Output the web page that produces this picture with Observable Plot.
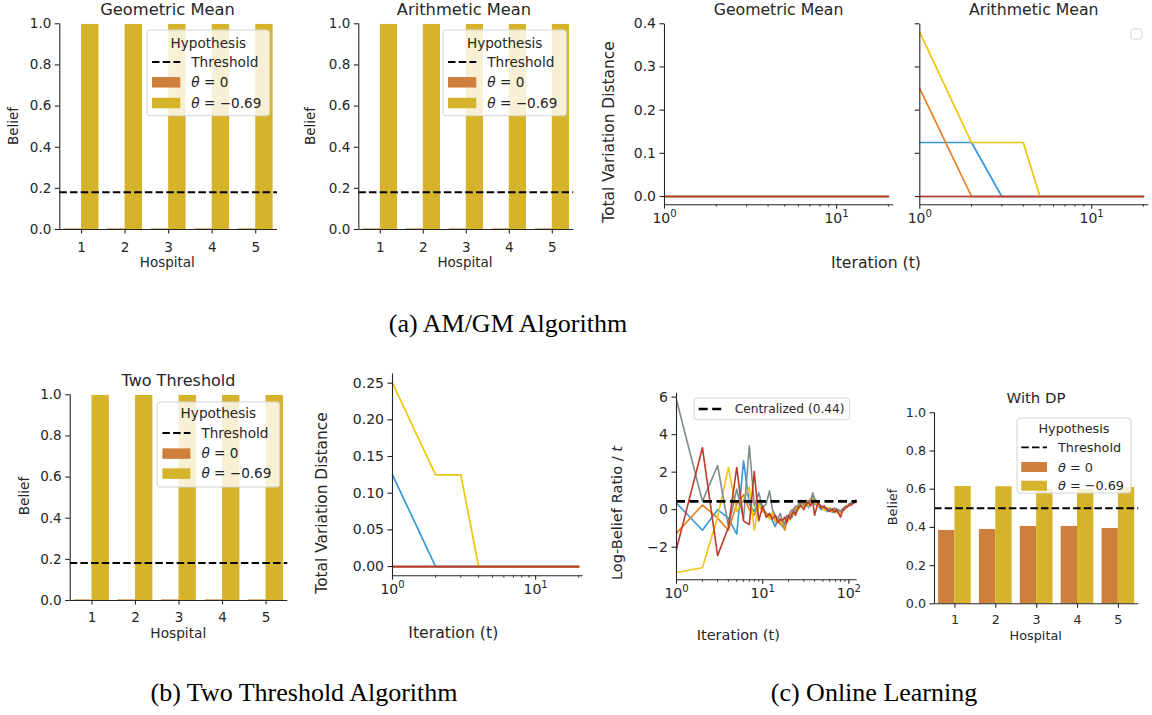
<!DOCTYPE html>
<html><head><meta charset="utf-8">
<script src="https://cdn.jsdelivr.net/npm/d3@7"></script>
<script src="https://cdn.jsdelivr.net/npm/@observablehq/plot@0.6"></script>
<style>
body{margin:0;background:#fff;}
#fig{position:relative;width:1152px;height:715px;overflow:hidden;font-family:"DejaVu Sans";color:#262626;background:#fff;}
.lbl{position:absolute;white-space:nowrap;transform:translate(-50%,-50%);line-height:1;}
.cap{font-family:"Liberation Serif";color:#000;}
</style></head><body><div id="fig"></div>
<script>
// ---------------- DATA ----------------
const hospitals = [1, 2, 3, 4, 5];
const hypothesisLabels = ["θ = 0", "θ = −0.69"];
const barColors = ["#ce7f3b", "#d5b32b"];
const hospitalColors = ["#3498db", "#e67e22", "#f1c40f", "#7f8c8d", "#c0392b"];

const geoBelief0 = [0.003, 0.003, 0.003, 0.003, 0.003];
const geoBelief1 = [0.997, 0.997, 0.997, 0.997, 0.997];
const arithBelief0 = [0.003, 0.003, 0.003, 0.003, 0.003];
const arithBelief1 = [0.997, 0.997, 0.997, 0.997, 0.997];
const twoBelief0 = [0.003, 0.003, 0.003, 0.003, 0.003];
const twoBelief1 = [0.997, 0.997, 0.997, 0.997, 0.997];
const dpBelief0 = [0.384, 0.389, 0.405, 0.405, 0.394];
const dpBelief1 = [0.614, 0.613, 0.599, 0.599, 0.609];
const thresholdAMGM = 0.181;
const thresholdTwo = 0.182;
const thresholdDP = 0.5;

const iterations = [1,2,3,4,5,6,7,8,9,10,11,12,13,14,15,16,17,18,19,20];
const tvGeoAll = [0,0,0,0,0,0,0,0,0,0,0,0,0,0,0,0,0,0,0,0];
const tvArith1 = [0.125,0.125,0,0,0,0,0,0,0,0,0,0,0,0,0,0,0,0,0,0];
const tvArith2 = [0.25,0,0,0,0,0,0,0,0,0,0,0,0,0,0,0,0,0,0,0];
const tvArith3 = [0.38,0.125,0.125,0.125,0,0,0,0,0,0,0,0,0,0,0,0,0,0,0,0];
const tvArith4 = [0,0,0,0,0,0,0,0,0,0,0,0,0,0,0,0,0,0,0,0];
const tvArith5 = [0,0,0,0,0,0,0,0,0,0,0,0,0,0,0,0,0,0,0,0];
const tvTwo1 = [0.125,0,0,0,0,0,0,0,0,0,0,0,0,0,0,0,0,0,0,0];
const tvTwo2 = [0,0,0,0,0,0,0,0,0,0,0,0,0,0,0,0,0,0,0,0];
const tvTwo3 = [0.25,0.125,0.125,0,0,0,0,0,0,0,0,0,0,0,0,0,0,0,0,0];
const tvTwo4 = [0,0,0,0,0,0,0,0,0,0,0,0,0,0,0,0,0,0,0,0];
const tvTwo5 = [0,0,0,0,0,0,0,0,0,0,0,0,0,0,0,0,0,0,0,0];

const tOnline = [1,2,3,4,5,6,7,8,9,10,11,12,13,14,15,16,17,18,19,20,21,22,23,24,
  26,28,30,32,34,36,38,40,
  44,48,52,56,60,64,68,72,76,80,84,88,92,96,100,104,108,112,116,120];
const llrBlue = [0.35,-1.1,0.0,-0.45,-1.3,2.6,0.3,-0.1,0.5,0.1,-0.2,-0.3,-0.6,-0.9,-0.5,-0.7,-0.9,-1.0,-0.6,-0.5,-0.3,-0.4,0.0,-0.2,
  0.3,0.5,0.2,0.4,0.1,0.5,0.7,0.3,
  0.2,0.0,0.1,-0.1,0.1,-0.15,0.0,-0.1,-0.2,-0.1,-0.05,0.1,0.15,0.2,0.3,0.25,0.35,0.4,0.35,0.45];
const llrOrange = [-1.25,0.25,-0.45,-1.1,0.3,0.8,0.0,-0.3,0.3,-0.1,-0.2,-0.4,-0.2,-0.6,-0.5,-0.8,-0.7,-1.1,-0.7,-0.4,-0.2,-0.3,0.1,0.0,
  0.2,0.4,0.3,0.5,0.3,0.6,0.4,0.5,
  0.3,0.1,0.0,0.1,-0.05,0.0,-0.1,0.05,-0.15,-0.2,0.0,0.05,0.2,0.15,0.25,0.3,0.3,0.35,0.4,0.4];
const llrYellow = [-3.35,-3.1,-0.4,2.25,-0.1,0.5,1.2,-1.1,0.3,0.0,-0.3,-0.5,-0.1,-0.7,-0.4,-0.6,-0.8,-0.7,-0.4,-0.6,-0.2,-0.1,-0.3,0.1,
  0.0,0.3,0.1,0.4,0.2,0.5,0.6,0.4,
  0.2,0.15,-0.05,0.0,0.1,-0.1,0.05,-0.15,-0.1,-0.2,-0.1,0.0,0.1,0.25,0.2,0.3,0.3,0.35,0.45,0.4];
const llrGray = [5.85,0.45,2.35,-0.9,1.1,-0.5,3.4,0.2,0.9,0.1,0.3,1.0,0.0,-0.3,-0.5,-0.2,-0.6,-0.8,-0.3,-0.4,-0.1,0.0,-0.2,0.2,
  0.1,0.3,0.4,0.2,0.5,0.4,0.9,0.6,
  0.3,0.2,0.1,0.0,0.05,-0.05,0.1,-0.1,0.0,-0.1,0.05,0.1,0.15,0.2,0.25,0.35,0.3,0.4,0.45,0.5];
const llrRed = [-2.1,3.3,-2.45,-0.95,2.25,-0.6,-0.8,2.05,-0.6,0.2,-0.4,-0.2,-0.5,-0.3,-0.7,-0.5,-0.6,-0.4,-0.7,-0.3,-0.5,-0.2,-0.1,-0.3,
  0.1,0.2,0.0,0.3,0.4,0.2,0.5,-0.3,
  0.4,0.1,0.2,0.0,-0.1,0.05,-0.15,0.0,-0.2,-0.4,-0.1,0.0,0.1,0.15,0.2,0.3,0.25,0.35,0.4,0.5];
const centralized = 0.44;

const beliefTicks = [0, 0.2, 0.4, 0.6, 0.8, 1.0];
const tvTicksTop = [0, 0.1, 0.2, 0.3, 0.4];
const tvTicksBottom = [0, 0.05, 0.10, 0.15, 0.20, 0.25];
const llrTicks = [-2, 0, 2, 4, 6];
const logMajorTV = [1, 10];
const logMinorTV = [2,3,4,5,6,7,8,9,20];
const logMajorOL = [1, 10, 100];
const logMinorOL = [2,3,4,5,6,7,8,9,20,30,40,50,60,70,80,90];

// ---------------- HELPERS ----------------
const fig = document.getElementById("fig");
const W = 1152, H = 715;
const ink = "#262626";
const hasAxisMarks = typeof Plot.axisX === "function";
const supDigits = {"0":"⁰","1":"¹","2":"²"};
const logFmt = d => "10" + supDigits[String(Math.round(Math.log10(d)))];

// turn "10⁰" tick labels into 10 with a raised, smaller exponent (mathtext look)
function raiseExponents(svg, fs) {
  const inv = {"⁰":"0","¹":"1","²":"2"};
  d3.select(svg).selectAll("text").each(function() {
    if (this.querySelector("tspan")) return;
    const s = this.textContent;
    const m = s.match(/^10([⁰¹²])$/);
    if (!m) return;
    this.textContent = "";
    const t = d3.select(this);
    t.append("tspan").text("10");
    t.append("tspan").attr("dy", -0.42 * fs).attr("font-size", (0.72 * fs) + "px").text(inv[m[1]]);
  });
}

function panel(c) {
  const marks = [...c.marks];
  const xOpt = {type: c.xType || "linear", domain: c.xDomain};
  const yOpt = {domain: c.yDomain};
  marks.push(Plot.ruleX([c.xDomain[0]], {stroke: ink, strokeWidth: 1.1}));
  marks.push(Plot.ruleY([c.yDomain[0]], {stroke: ink, strokeWidth: 1.1}));
  if (hasAxisMarks) {
    marks.push(Plot.axisX({ticks: c.xTicks, tickFormat: c.xFormat, tickSize: 4.5, tickPadding: c.xPad, label: null, strokeWidth: 1.1, stroke: ink}));
    if (c.xMinor) marks.push(Plot.axisX({ticks: c.xMinor, tickFormat: () => "", tickSize: 2.5, tickPadding: 0, label: null, strokeWidth: 0.9, stroke: ink}));
    marks.push(Plot.axisY({ticks: c.yTicks, tickFormat: c.yFormat, tickSize: 4.5, tickPadding: c.yPad, label: null, strokeWidth: 1.1, stroke: ink}));
  } else {
    Object.assign(xOpt, {ticks: c.xTicks, tickFormat: c.xFormat, tickSize: 4.5, tickPadding: c.xPad, label: null});
    Object.assign(yOpt, {ticks: c.yTicks, tickFormat: c.yFormat, tickSize: 4.5, tickPadding: c.yPad, label: null});
  }
  const svg = Plot.plot({
    width: W, height: H,
    marginLeft: c.left, marginRight: W - c.right, marginTop: c.top, marginBottom: H - c.bottom,
    x: xOpt, y: yOpt, marks,
    style: {fontFamily: "DejaVu Sans", fontSize: c.fs + "px", color: ink, background: "transparent", overflow: "visible"}
  });
  svg.style.position = "absolute"; svg.style.left = "0px"; svg.style.top = "0px";
  svg.style.maxWidth = "none";
  if (c.xType === "log") raiseExponents(svg, c.fs);
  fig.appendChild(svg);
}

function txt(html, cx, cy, size, opt = {}) {
  const d = document.createElement("div");
  d.className = "lbl" + (opt.cls ? " " + opt.cls : "");
  d.innerHTML = html;
  d.style.left = cx + "px"; d.style.top = cy + "px"; d.style.fontSize = size + "px";
  if (opt.rotate) d.style.transform = "translate(-50%,-50%) rotate(-90deg)";
  fig.appendChild(d);
}

function barRecords(b0, b1) {
  return hospitals.flatMap((h, i) => [
    {hospital: h, k: 0, value: b0[i]},
    {hospital: h, k: 1, value: b1[i]}
  ]);
}

function barPanel(c) {
  const recs = barRecords(c.b0, c.b1);
  panel({
    left: c.left, right: c.right, top: c.top, bottom: c.bottom, fs: c.fs,
    xDomain: [hospitals[0] - 0.5, hospitals[hospitals.length - 1] + 0.5], yDomain: [0, 1],
    xTicks: hospitals, xFormat: d => String(d), xPad: c.xPad,
    yTicks: beliefTicks, yFormat: d3.format(".1f"), yPad: 4,
    marks: [
      Plot.rectY(recs.filter(d => d.k === 0), {x1: d => d.hospital - 0.4, x2: d => d.hospital, y: "value", fill: barColors[0]}),
      Plot.rectY(recs.filter(d => d.k === 1), {x1: d => d.hospital, x2: d => d.hospital + 0.4, y: "value", fill: barColors[1]}),
      Plot.ruleY([c.threshold], {stroke: "#000", strokeWidth: 1.9, strokeDasharray: "7.5,3.2"})
    ]
  });
}

function tvPanel(c) {
  const marks = c.series.map((s, i) => Plot.line(iterations.map((t, j) => ({t, v: s[j]})), {x: "t", y: "v", stroke: hospitalColors[i], strokeWidth: 1.7}));
  panel({
    left: c.left, right: c.right, top: c.top, bottom: c.bottom, fs: c.fs,
    xType: "log", xDomain: [1, 21.5], yDomain: c.yDomain,
    xTicks: logMajorTV, xMinor: logMinorTV, xFormat: logFmt, xPad: 4,
    yTicks: c.yTicks, yFormat: c.yFormat, yPad: 4, marks
  });
}

function legendSVG(x0, y0, w, h) {
  return d3.select(fig).append("svg")
    .attr("width", w + 2).attr("height", h + 2)
    .style("position", "absolute").style("left", (x0 - 1) + "px").style("top", (y0 - 1) + "px")
    .style("overflow", "visible").style("font-family", "DejaVu Sans");
}

function thetaText(sel, label) {
  sel.append("tspan").attr("font-style", "italic").text(label[0]);
  sel.append("tspan").text(label.slice(1));
}

function barLegend(c) {
  const s = legendSVG(c.x0, c.y0, c.w, c.h);
  s.append("rect").attr("x", 1).attr("y", 1).attr("width", c.w).attr("height", c.h).attr("rx", 3)
    .attr("fill", "#fff").attr("fill-opacity", 0.8).attr("stroke", "#d4d4d4");
  s.append("text").attr("x", 1 + c.w / 2).attr("y", 1 + c.titleY).attr("dy", "0.36em")
    .attr("text-anchor", "middle").attr("font-size", c.fs).attr("fill", ink).text("Hypothesis");
  const items = [{label: "Threshold"}, {label: hypothesisLabels[0], color: barColors[0]}, {label: hypothesisLabels[1], color: barColors[1]}];
  items.forEach((it, i) => {
    const y = 1 + c.rows[i];
    if (!it.color) {
      s.append("line").attr("x1", 1 + c.hx0).attr("x2", 1 + c.hx1).attr("y1", y).attr("y2", y)
        .attr("stroke", "#000").attr("stroke-width", 1.9).attr("stroke-dasharray", "7.5,3.2");
    } else {
      s.append("rect").attr("x", 1 + c.hx0).attr("y", y - c.ph / 2).attr("width", c.hx1 - c.hx0).attr("height", c.ph).attr("fill", it.color);
    }
    const t = s.append("text").attr("x", 1 + c.tx).attr("y", y).attr("dy", "0.36em").attr("font-size", c.fs).attr("fill", ink);
    if (it.color) thetaText(t, it.label); else t.text(it.label);
  });
}

// ---------------- PANELS ----------------
barPanel({left: 59.3, right: 277, top: 23.3, bottom: 229, fs: 13.5, xPad: 8, b0: geoBelief0, b1: geoBelief1, threshold: thresholdAMGM});
barPanel({left: 358.3, right: 573.3, top: 23.3, bottom: 229, fs: 13.5, xPad: 8, b0: arithBelief0, b1: arithBelief1, threshold: thresholdAMGM});
tvPanel({left: 664, right: 893.3, top: 23.7, bottom: 204.2, fs: 14, yDomain: [-0.019, 0.399], yTicks: tvTicksTop, yFormat: d3.format(".1f"),
  series: [tvGeoAll, tvGeoAll, tvGeoAll, tvGeoAll, tvGeoAll]});
tvPanel({left: 919.3, right: 1148.3, top: 23.7, bottom: 204.2, fs: 14, yDomain: [-0.019, 0.399], yTicks: tvTicksTop, yFormat: () => "",
  series: [tvArith1, tvArith2, tvArith3, tvArith4, tvArith5]});
barPanel({left: 69.7, right: 287.3, top: 394.3, bottom: 600, fs: 13.5, xPad: 7.5, b0: twoBelief0, b1: twoBelief1, threshold: thresholdTwo});
tvPanel({left: 392, right: 582.7, top: 373.5, bottom: 575.2, fs: 14, yDomain: [-0.0125, 0.2625], yTicks: tvTicksBottom, yFormat: d3.format(".2f"),
  series: [tvTwo1, tvTwo2, tvTwo3, tvTwo4, tvTwo5]});

// online learning
{
  const llr = [llrBlue, llrOrange, llrYellow, llrGray, llrRed];
  const marks = llr.map((s, i) => Plot.line(tOnline.map((t, j) => ({t, v: s[j]})), {x: "t", y: "v", stroke: hospitalColors[i], strokeWidth: 1.6}));
  marks.push(Plot.ruleY([centralized], {stroke: "#000", strokeWidth: 2.6, strokeDasharray: "9,4.5"}));
  panel({left: 676, right: 856.7, top: 392.7, bottom: 579.3, fs: 14,
    xType: "log", xDomain: [1, 125], yDomain: [-3.74, 6.21],
    xTicks: logMajorOL, xMinor: logMinorOL, xFormat: logFmt, xPad: 4,
    yTicks: llrTicks, yFormat: d => d < 0 ? "−" + Math.abs(d) : String(d), yPad: 4, marks});
}
barPanel({left: 934, right: 1138.3, top: 412.3, bottom: 603.3, fs: 12.7, xPad: 7, b0: dpBelief0, b1: dpBelief1, threshold: thresholdDP});

// ---------------- LEGENDS ----------------
barLegend({x0: 146.7, y0: 30, w: 122.6, h: 85.7, fs: 13.6, titleY: 12.7, rows: [32, 52.3, 73], hx0: 5, hx1: 33.3, tx: 44.3, ph: 10.5});
barLegend({x0: 443.3, y0: 30, w: 123.4, h: 85.7, fs: 13.6, titleY: 12.7, rows: [32, 52.3, 73], hx0: 5, hx1: 33.3, tx: 44.3, ph: 10.5});
barLegend({x0: 157.3, y0: 401.7, w: 122.7, h: 85, fs: 13.6, titleY: 11.6, rows: [31, 51.6, 71.6], hx0: 5.4, hx1: 33.4, tx: 44.4, ph: 10.5});
barLegend({x0: 1016.7, y0: 418.3, w: 114, h: 75, fs: 12.8, titleY: 10.7, rows: [29.4, 49, 67.7], hx0: 4.3, hx1: 30, tx: 41, ph: 10});
{
  const s = legendSVG(694.3, 398.3, 155.7, 21.7);
  s.append("rect").attr("x", 1).attr("y", 1).attr("width", 155.7).attr("height", 21.7).attr("rx", 3)
    .attr("fill", "#fff").attr("fill-opacity", 0.8).attr("stroke", "#d4d4d4");
  s.append("line").attr("x1", 5.7).attr("x2", 28.4).attr("y1", 12).attr("y2", 12)
    .attr("stroke", "#000").attr("stroke-width", 2.6).attr("stroke-dasharray", "9,4.5");
  s.append("text").attr("x", 41.7).attr("y", 12).attr("dy", "0.36em").attr("font-size", 12.2).attr("fill", ink)
    .text("Centralized (" + centralized.toFixed(2) + ")");
}
{
  const s = legendSVG(1130.7, 29.3, 11, 10);
  s.append("rect").attr("x", 1).attr("y", 1).attr("width", 11).attr("height", 10).attr("rx", 2.5)
    .attr("fill", "#fff").attr("fill-opacity", 0.8).attr("stroke", "#d4d4d4");
}

// ---------------- TEXT ----------------
txt("Geometric Mean", 167.5, 9.8, 16.3);
txt("Arithmetic Mean", 464, 9.8, 16.3);
txt("Geometric Mean", 778.6, 9.8, 15.7);
txt("Arithmetic Mean", 1033.8, 9.8, 15.7);
txt("Two Threshold", 178.5, 380.7, 16);
txt("With DP", 1036, 398.3, 14.9);

txt("Belief", 14.3, 126, 13.5, {rotate: true});
txt("Belief", 311, 126, 13.5, {rotate: true});
txt("Total Variation Distance", 609.5, 131.7, 15.4, {rotate: true});
txt("Belief", 24.7, 496, 13.6, {rotate: true});
txt("Total Variation Distance", 322.5, 502.5, 15.4, {rotate: true});
txt("Log-Belief Ratio / <i>t</i>", 617, 512.5, 14.6, {rotate: true});
txt("Belief", 892, 506.7, 13, {rotate: true});

txt("Hospital", 167.3, 263.3, 13.5);
txt("Hospital", 465, 263.3, 13.5);
txt("Iteration (t)", 876, 263.3, 15.7);
txt("Hospital", 178.3, 634.3, 13.7);
txt("Iteration (t)", 453.3, 633.3, 15.7);
txt("Iteration (t)", 738.3, 635, 14.5);
txt("Hospital", 1035.7, 635.7, 12.8);

txt("(a) AM/GM Algorithm", 508, 324, 26, {cls: "cap"});
txt("(b) Two Threshold Algorithm", 304, 693, 26, {cls: "cap"});
txt("(c) Online Learning", 874, 693, 26, {cls: "cap"});
</script></body></html>
